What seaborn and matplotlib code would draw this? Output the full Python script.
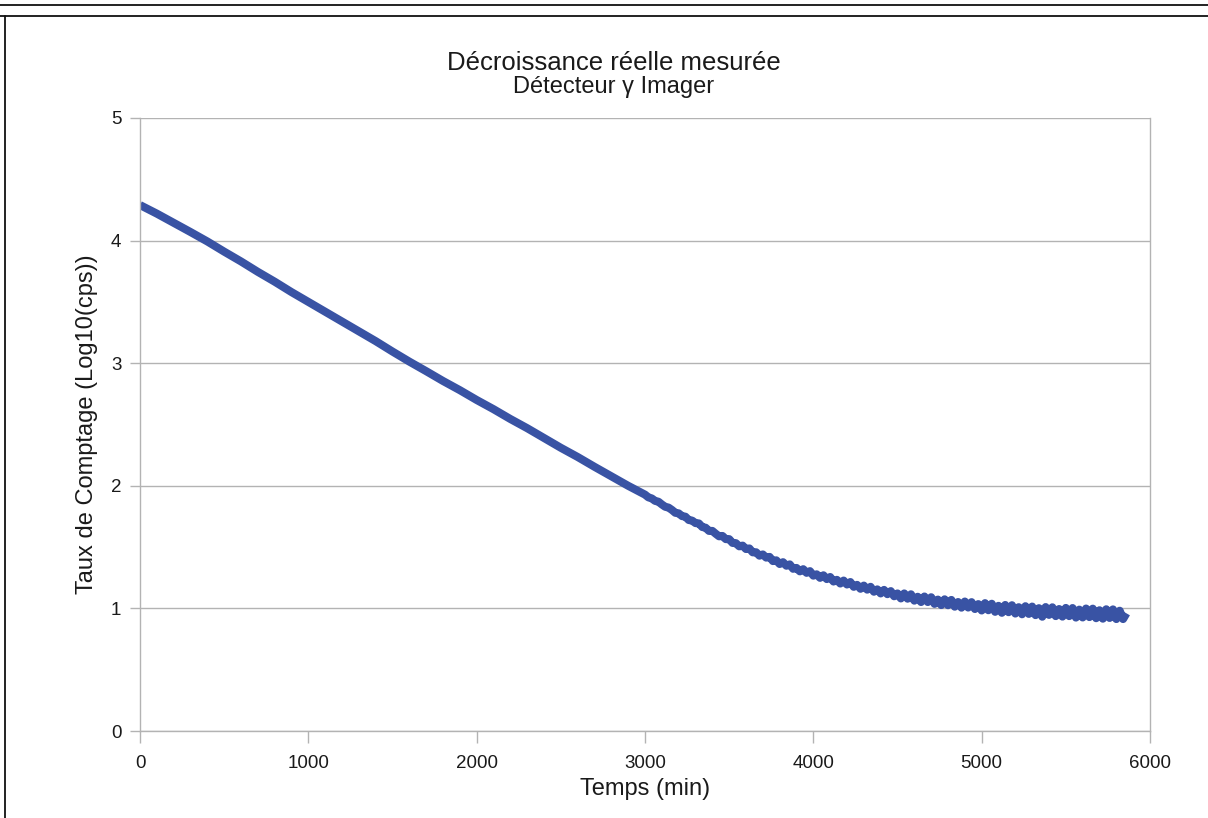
import matplotlib
matplotlib.use("Agg")
import matplotlib.pyplot as plt
from matplotlib.lines import Line2D
import seaborn as sns
import pandas as pd

# ---- data ----
time_early = [0, 100, 200, 300, 400, 500, 600, 700, 800, 900, 1000, 1100, 1200,
              1300, 1400, 1500, 1600, 1700, 1800, 1900, 2000, 2100, 2200, 2300,
              2400, 2500, 2600, 2700, 2800, 2900]
log_rate_early = [4.29, 4.22, 4.145, 4.07, 3.993, 3.91, 3.83, 3.745, 3.665, 3.58,
                  3.50, 3.42, 3.34, 3.26, 3.18, 3.095, 3.013, 2.935, 2.855, 2.78,
                  2.70, 2.625, 2.545, 2.47, 2.39, 2.31, 2.235, 2.155, 2.078, 2.0]

time_late = [3000, 3020, 3040, 3060, 3080, 3100, 3120, 3140, 3160, 3180,
             3200, 3220, 3240, 3260, 3280, 3300, 3320, 3340, 3360, 3380,
             3400, 3420, 3440, 3460, 3480, 3500, 3520, 3540, 3560, 3580,
             3600, 3620, 3640, 3660, 3680, 3700, 3720, 3740, 3760, 3780,
             3800, 3820, 3840, 3860, 3880, 3900, 3920, 3940, 3960, 3980,
             4000, 4020, 4040, 4060, 4080, 4100, 4120, 4140, 4160, 4180,
             4200, 4220, 4240, 4260, 4280, 4300, 4320, 4340, 4360, 4380,
             4400, 4420, 4440, 4460, 4480, 4500, 4520, 4540, 4560, 4580,
             4600, 4620, 4640, 4660, 4680, 4700, 4720, 4740, 4760, 4780,
             4800, 4820, 4840, 4860, 4880, 4900, 4920, 4940, 4960, 4980,
             5000, 5020, 5040, 5060, 5080, 5100, 5120, 5140, 5160, 5180,
             5200, 5220, 5240, 5260, 5280, 5300, 5320, 5340, 5360, 5380,
             5400, 5420, 5440, 5460, 5480, 5500, 5520, 5540, 5560, 5580,
             5600, 5620, 5640, 5660, 5680, 5700, 5720, 5740, 5760, 5780,
             5800, 5820, 5840, 5860]
log_rate_late = [1.928, 1.906, 1.897, 1.877, 1.870, 1.848, 1.829, 1.822, 1.803, 1.780,
                 1.775, 1.753, 1.748, 1.721, 1.716, 1.696, 1.693, 1.664, 1.658, 1.632,
                 1.632, 1.609, 1.588, 1.591, 1.565, 1.565, 1.534, 1.532, 1.506, 1.512,
                 1.484, 1.489, 1.457, 1.458, 1.430, 1.440, 1.414, 1.420, 1.386, 1.392,
                 1.362, 1.377, 1.348, 1.359, 1.323, 1.330, 1.302, 1.320, 1.290, 1.304,
                 1.267, 1.278, 1.249, 1.270, 1.239, 1.256, 1.219, 1.233, 1.203, 1.227,
                 1.195, 1.215, 1.176, 1.192, 1.160, 1.186, 1.153, 1.176, 1.136, 1.155,
                 1.122, 1.151, 1.116, 1.141, 1.099, 1.122, 1.081, 1.122, 1.079, 1.115,
                 1.063, 1.095, 1.052, 1.097, 1.052, 1.091, 1.037, 1.072, 1.027, 1.074,
                 1.026, 1.069, 1.014, 1.052, 1.006, 1.056, 1.007, 1.051, 0.995, 1.035,
                 0.983, 1.043, 0.985, 1.038, 0.972, 1.021, 0.964, 1.028, 0.969, 1.026,
                 0.958, 1.010, 0.952, 1.018, 0.955, 1.015, 0.945, 1.002, 0.932, 1.011,
                 0.947, 1.009, 0.937, 0.995, 0.933, 1.004, 0.937, 1.003, 0.925, 0.990,
                 0.926, 0.999, 0.929, 0.998, 0.920, 0.985, 0.916, 0.993, 0.922, 0.992,
                 0.913, 0.981, 0.913, 0.960]

x_ticks = [0, 1000, 2000, 3000, 4000, 5000, 6000]
y_ticks = [0, 1, 2, 3, 4, 5]

title = "Décroissance réelle mesurée"
subtitle = "Détecteur γ Imager"
x_label = "Temps (min)"
y_label = "Taux de Comptage (Log10(cps))"

df = pd.DataFrame({"t": time_early + time_late,
                   "v": log_rate_early + log_rate_late})

# ---- style ----
sns.set_theme(style="white")
plt.rcParams["font.family"] = ["Liberation Sans", "DejaVu Sans"]
text_color = "#1a1a1a"
grid_color = "#b3b3b3"
line_color = "#3953a4"

W, H = 1208, 818
fig = plt.figure(figsize=(W / 100, H / 100), dpi=100)
fig.patch.set_facecolor("white")

left, right, top, bottom = 140, 1150, 118, 731
ax = fig.add_axes([left / W, 1 - bottom / H, (right - left) / W, (bottom - top) / H])

sns.lineplot(data=df, x="t", y="v", ax=ax, color=line_color, linewidth=5.8,
             estimator=None, sort=False, solid_joinstyle="round",
             solid_capstyle="butt")

ax.set_xlim(0, 6000)
ax.set_ylim(0, 5)
ax.set_xticks(x_ticks)
ax.set_yticks(y_ticks)
ax.set_xlabel("")
ax.set_ylabel("")
ax.yaxis.grid(True, color=grid_color, linewidth=1.0)
ax.xaxis.grid(False)
ax.set_axisbelow(True)
for side in ["left", "right", "bottom"]:
    ax.spines[side].set_color(grid_color)
    ax.spines[side].set_linewidth(1.0)
ax.spines["top"].set_visible(False)
ax.tick_params(axis="x", length=8.5, width=1.0, color=grid_color, pad=8.5,
               labelsize=13.5, labelcolor=text_color, bottom=True)
ax.tick_params(axis="y", length=7, width=1.0, color=grid_color, pad=6.5,
               labelsize=13.5, labelcolor=text_color, left=True)

# ---- texts ----
cx = 614 / W
fig.text(cx, 1 - 70 / H, title, ha="center",
         va="baseline", fontsize=18.5, color=text_color)
fig.text(cx, 1 - 93 / H, subtitle, ha="center",
         va="baseline", fontsize=17, color=text_color)
fig.text(0.5 * (left + right) / W, 1 - 795 / H, x_label, ha="center",
         va="baseline", fontsize=17, color=text_color)
fig.text(87 / W, 1 - 0.5 * (top + bottom) / H, y_label, ha="center",
         va="center", rotation=90, fontsize=17, color=text_color)

# ---- frame lines of the page ----
fig.add_artist(Line2D([0, 1], [1 - 5 / H, 1 - 5 / H], transform=fig.transFigure,
                      color="#111111", linewidth=1.3))
fig.add_artist(Line2D([0, 1], [1 - 16 / H, 1 - 16 / H], transform=fig.transFigure,
                      color="#111111", linewidth=1.3))
fig.add_artist(Line2D([4.5 / W, 4.5 / W], [0, 1 - 16 / H], transform=fig.transFigure,
                      color="#111111", linewidth=1.3))

fig.savefig("out.png", dpi=100, facecolor="white")
